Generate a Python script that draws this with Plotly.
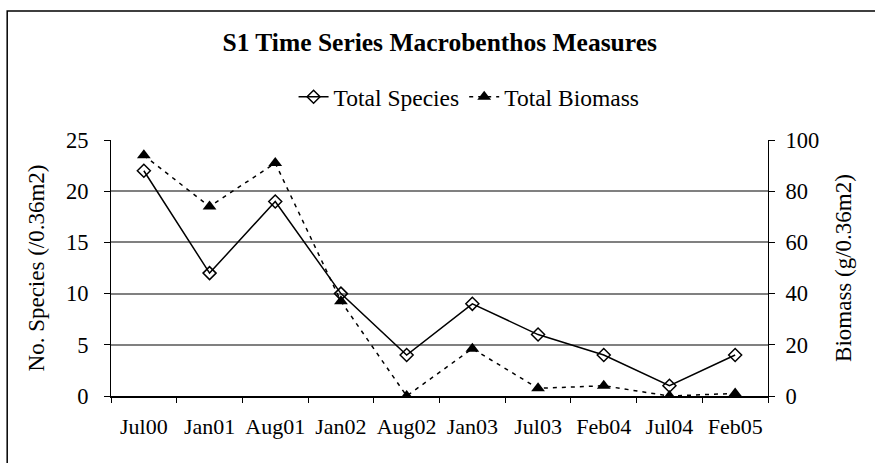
import plotly.graph_objects as go

categories = ["Jul00", "Jan01", "Aug01", "Jan02", "Aug02", "Jan03", "Jul03", "Feb04", "Jul04", "Feb05"]
total_species = [22, 12, 19, 10, 4, 9, 6, 4, 1, 4]
total_biomass = [94, 74, 91, 37, 0, 18.5, 3, 4, 0, 1]

species_ticks = [0, 5, 10, 15, 20, 25]
biomass_ticks = [0, 20, 40, 60, 80, 100]

FONT = "Liberation Serif"

fig = go.Figure()
fig.add_trace(go.Scatter(
    x=categories, y=total_species, name="Total Species", mode="lines+markers",
    line=dict(color="black", width=1.5),
    marker=dict(symbol="diamond-open", size=10, color="black", line=dict(width=1.5, color="black")),
    yaxis="y",
))
fig.add_trace(go.Scatter(
    x=categories, y=total_biomass, name="Total Biomass", mode="lines+markers",
    line=dict(color="black", width=1.5, dash="4px,5px"),
    marker=dict(symbol="triangle-up", size=12, color="black"),
    yaxis="y2",
))

fig.update_layout(
    width=875, height=463,
    margin=dict(l=111, r=107, t=140, b=67),
    paper_bgcolor="white", plot_bgcolor="white",
    font=dict(family=FONT, size=22, color="black"),
    title=dict(text="<b>S1 Time Series Macrobenthos Measures</b>", x=0.5025, xanchor="center",
               y=0.909, yanchor="middle", font=dict(size=25.5, family=FONT, color="black")),
    legend=dict(orientation="h", x=0.545, xanchor="center", y=1.168, yanchor="middle",
                font=dict(size=23.5, family=FONT), bgcolor="rgba(0,0,0,0)"),
    xaxis=dict(type="category", range=[-0.5, 9.5], showgrid=False, showline=True,
               linecolor="black", linewidth=2, ticks="outside", tickson="boundaries",
               ticklen=5, tickcolor="black", tickfont=dict(size=22, family=FONT), zeroline=False,
               tickangle=0, ticklabelstandoff=10),
    yaxis=dict(range=[0, 25], tickvals=species_ticks, showgrid=True, gridcolor="#808080", gridwidth=1.5,
               showline=True, linecolor="black", linewidth=1, ticks="outside", ticklen=6,
               tickcolor="black", zeroline=False, tickfont=dict(size=22.5, family=FONT),
               ticklabelstandoff=11,
               title=dict(text="No. Species (/0.36m2)", font=dict(size=23, family=FONT), standoff=14)),
    yaxis2=dict(range=[0, 100], tickvals=biomass_ticks, overlaying="y", side="right", showgrid=False,
                showline=True, linecolor="black", linewidth=1, ticks="outside", ticklen=6,
                tickcolor="black", zeroline=False, tickfont=dict(size=22.5, family=FONT),
                ticklabelstandoff=6,
                title=dict(text="Biomass (g/0.36m2)", font=dict(size=23, family=FONT), standoff=16)),
    shapes=[dict(type="rect", xref="paper", yref="paper", x0=-0.158, y0=-0.35, x1=1.30, y1=1.504,
                 line=dict(color="black", width=1.5), fillcolor="rgba(0,0,0,0)", layer="below")],
)

fig.write_html("out.html", config={"displayModeBar": False},
               post_script="document.body.style.margin='0';document.body.style.overflow='hidden';")
